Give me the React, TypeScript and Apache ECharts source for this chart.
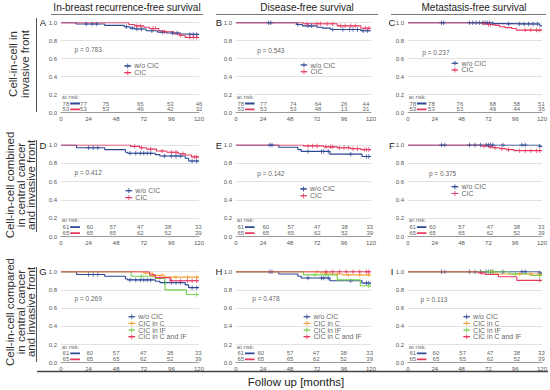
import React, { useEffect, useRef } from "react";
import * as echarts from "echarts";

// ---------- texts ----------
const COLUMN_TITLES = ["In-breast recurrence-free survival", "Disease-free survival", "Metastasis-free survival"];
const ROW_LABELS = [
  "Cell-in-cell in\ninvasive front",
  "Cell-in-cell combined\nin central cancer\nand invasive front",
  "Cell-in-cell compared\nin central cancer\nand invasive front",
];
const PANEL_LETTERS = ["A", "B", "C", "D", "E", "F", "G", "H", "I"];
const P_VALUES = ["0.783", "0.543", "0.237", "0.412", "0.142", "0.375", "0.269", "0.478", "0.113"];
const X_AXIS_TITLE = "Follow up [months]";
const GROUPS_TWO = ["w/o CIC", "CIC"];
const GROUPS_FOUR = ["w/o CIC", "CIC in C", "CIC in IF", "CIC in C and IF"];

// ---------- Kaplan-Meier step curves [months, survival] ----------
const A_noCIC = [[0, 1], [13, 0.985], [38, 0.97], [55, 0.955], [60, 0.94], [64, 0.93], [74, 0.91], [84, 0.895], [92, 0.885], [104, 0.875], [110, 0.87], [120, 0.87]];
const A_CIC = [[0, 1], [59, 0.98], [64, 0.965], [72, 0.95], [77, 0.935], [85, 0.91], [89, 0.9], [98, 0.875], [103, 0.86], [108, 0.837], [120, 0.837]];
const B_noCIC = [[0, 1], [54, 0.98], [59, 0.965], [72, 0.95], [77, 0.94], [84, 0.925], [111, 0.91], [120, 0.91]];
const B_CIC = [[0, 1], [60, 0.988], [90, 0.965], [111, 0.938], [120, 0.938]];
const C_noCIC = [[0, 1], [76, 0.99], [86, 0.985], [118, 0.965], [120, 0.965]];
const C_CIC = [[0, 1], [66, 0.99], [72, 0.98], [78, 0.97], [82, 0.955], [87, 0.945], [93, 0.935], [97, 0.918], [120, 0.918]];
const D_noCIC = [[0, 1], [13.5, 0.97], [38, 0.95], [56, 0.92], [58, 0.91], [82, 0.895], [86, 0.88], [108, 0.855], [111, 0.825], [120, 0.825]];
const D_CIC = [[0, 1], [60.5, 0.985], [68.5, 0.97], [74.5, 0.955], [83, 0.935], [92, 0.92], [102, 0.905], [108, 0.89], [113.5, 0.87], [120, 0.87]];
const E_noCIC = [[0, 1], [38, 0.975], [55, 0.95], [58, 0.93], [83.5, 0.9], [112, 0.875], [120, 0.875]];
const E_CIC = [[0, 1], [60, 0.99], [78, 0.98], [90, 0.97], [102, 0.96], [111, 0.95], [120, 0.95]];
const F_noCIC = [[0, 1], [118, 0.985], [120, 0.985]];
const F_CIC = [[0, 1], [66, 0.99], [72, 0.98], [76, 0.97], [82, 0.96], [88, 0.95], [95, 0.938], [120, 0.938]];
const G_C = [[0, 1], [71.5, 0.985], [80, 0.96], [90, 0.94], [120, 0.94]];
const G_IF = [[0, 1], [61, 0.95], [82, 0.925], [90.5, 0.8], [109, 0.75], [120, 0.75]];
const G_CIF = [[0, 1], [77, 0.965], [82, 0.935], [95, 0.9], [120, 0.9]];
const H_C = [[0, 1], [75, 0.985], [84, 0.975], [95, 0.965], [120, 0.965]];
const H_IF = [[0, 1], [60, 0.965], [90, 0.91], [110.5, 0.845], [120, 0.845]];
const H_CIF = [[0, 1], [120, 1]];
const I_C = [[0, 1], [76.5, 0.985], [80, 0.975], [118, 0.968], [120, 0.968]];
const I_IF = [[0, 1], [91, 0.975], [110, 0.958], [120, 0.958]];
const I_CIF = [[0, 1], [63, 0.985], [69, 0.97], [81, 0.945], [97.5, 0.905], [120, 0.905]];

// ---------- censoring times (months) ----------
const A_cens = [[22, 27, 31, 57, 62, 66, 70, 79, 88, 97, 101, 112, 115, 118], [66, 69, 80, 82, 90, 104, 112, 115, 118]];
const B_cens = [[29, 31, 55, 64, 67, 86, 95, 101, 104, 108, 113, 117], [63, 72, 75, 81, 86, 93, 97, 102, 106, 115, 118]];
const C_cens = [[30, 32, 55, 58, 61, 64, 67, 69, 71, 73, 76, 90, 100, 104, 108, 112, 116], [68, 72, 74, 105, 110, 115, 118]];
const D_cens = [[24, 28, 32, 60, 65, 69, 72, 75, 78, 90, 96, 100, 104, 114, 118], [64, 70, 78, 88, 96, 100, 106, 116, 118]];
const E_cens = [[30, 32, 64, 76, 78, 82, 102, 116, 118], [64, 68, 72, 80, 84, 86, 92, 96, 100, 104, 108, 114, 116, 118]];
const F_cens = [[30, 33, 55, 60, 65, 70, 72, 74, 76, 85, 102, 105, 118], [68, 74, 78, 84, 90, 100, 105, 110, 115, 118]];
const G_cens = [[24, 28, 32, 60, 65, 69, 72, 75, 78, 90, 96, 100, 104, 114, 118], [74, 80, 88, 100, 110, 118], [70, 118], [86, 96, 104, 110, 114, 118]];
const H_cens = [[30, 32, 64, 76, 78, 82, 102, 116, 118], [72, 80, 90, 100, 110, 118], [70, 80, 118], [80, 86, 92, 98, 104, 110, 116, 118]];
const I_cens = [[30, 33, 55, 60, 65, 70, 72, 74, 76, 85, 102, 105, 118], [75, 100, 110, 118], [72, 76, 96, 118], [66, 118]];

// ---------- numbers at risk (at 0, 24, 48, 72, 96, 120 months) ----------
const riskA = [[78, 77, 75, 65, 53, 46], [53, 53, 53, 49, 42, 32]];
const riskB = [[78, 77, 74, 64, 26, 44], [53, 53, 53, 48, 13, 31]];
const riskC = [[78, 78, 76, 68, 58, 51], [53, 53, 53, 49, 44, 35]];
const riskDEFGHI = [[61, 60, 57, 47, 38, 33], [65, 65, 65, 62, 52, 39]];

// ---------- layout & style ----------
const COL_LEFT = [61, 236, 408];
const COL_W = [138, 135, 134];
const ROW_TOP = [22.7, 145, 271.7];
const ROW_H = [90, 91.5, 91];
const FONT = "'Liberation Sans', Arial, Helvetica, sans-serif";
const BLUE = "#2d4795";
const RED = "#e6385f";
const ORANGE = "#f2a43a";
const GREEN = "#74d24e";
const COLORS2 = [BLUE, RED];
const COLORS4 = [BLUE, ORANGE, GREEN, RED];
const PLUS = "path://M4,0H6V4H10V6H6V10H4V6H0V4H4Z";

const PANELS = [
  { curves: [A_noCIC, A_CIC], cens: A_cens, risk: riskA, riskX: [4.3, 19.5, 39, 69, 95, 120], legend: [58, 0.52], p: [11.3, 0.705] },
  { curves: [B_noCIC, B_CIC], cens: B_cens, risk: riskB, riskX: [4.3, 24.4, 51, 73, 96, 115.5], legend: [60.4, 0.53], p: [18.4, 0.695] },
  { curves: [C_noCIC, C_CIC], cens: C_cens, risk: riskC, riskX: [4.3, 21, 46.5, 76, 97.5, 119.5], legend: [42, 0.55], p: [12.3, 0.67] },
  { curves: [D_noCIC, D_CIC], cens: D_cens, risk: riskDEFGHI, riskX: [4.3, 25, 45, 69, 93, 119.4], legend: [59, 0.5], p: [11.3, 0.7] },
  { curves: [E_noCIC, E_CIC], cens: E_cens, risk: riskDEFGHI, riskX: [4.3, 26.5, 48.7, 72.3, 96.5, 119], legend: [60, 0.52], p: [18.4, 0.69] },
  { curves: [F_noCIC, F_CIC], cens: F_cens, risk: riskDEFGHI, riskX: [4.3, 22, 48, 73.5, 97.5, 119.4], legend: [42, 0.545], p: [18.3, 0.69] },
  { curves: [D_noCIC, G_C, G_IF, G_CIF], cens: G_cens, risk: riskDEFGHI, riskX: [4.3, 25, 48, 71.6, 94.8, 119.4], legend: [61.5, 0.505], p: [11.3, 0.71] },
  { curves: [E_noCIC, H_C, H_IF, H_CIF], cens: H_cens, risk: riskDEFGHI, riskX: [4.3, 22, 48, 71.3, 95.6, 118.8], legend: [63, 0.505], p: [14, 0.71] },
  { curves: [F_noCIC, I_C, I_IF, I_CIF], cens: I_cens, risk: riskDEFGHI, riskX: [4.3, 25, 49, 73.5, 97.5, 119.5], legend: [52.5, 0.505], p: [10.8, 0.69] },
];

function stepAt(curve: number[][], t: number): number {
  let y = curve[0][1];
  for (const [x, v] of curve) {
    if (x <= t) y = v;
    else break;
  }
  return y;
}

function buildOption() {
  const grid: any[] = [];
  const xAxis: any[] = [];
  const yAxis: any[] = [];
  const series: any[] = [];
  const graphic: any[] = [];

  PANELS.forEach((panel, i) => {
    const r = Math.floor(i / 3);
    const c = i % 3;
    grid.push({ left: COL_LEFT[c], top: ROW_TOP[r], width: COL_W[c], height: ROW_H[r] });
    xAxis.push({
      type: "value", gridIndex: i, min: 0, max: 120, interval: 24,
      axisLine: { show: true, lineStyle: { color: "#9a9a9a", width: 1 } },
      axisTick: { show: false }, splitLine: { show: false },
      axisLabel: { fontSize: 6, color: "#555", margin: 3, fontFamily: FONT },
    });
    yAxis.push({
      type: "value", gridIndex: i, min: 0, max: 1, interval: 0.2,
      axisLine: { show: false }, axisTick: { show: false },
      splitLine: { show: true, lineStyle: { color: "#e2e2e2", width: 1 } },
      axisLabel: { fontSize: 6, color: "#555", margin: 4, fontFamily: FONT, formatter: (v: number) => v.toFixed(1) },
    });
    const base = { xAxisIndex: i, yAxisIndex: i, silent: true };
    const colors = panel.curves.length === 2 ? COLORS2 : COLORS4;
    const groups = panel.curves.length === 2 ? GROUPS_TWO : GROUPS_FOUR;

    panel.curves.forEach((curve, k) => {
      series.push({
        ...base, type: "line", data: curve, step: "end", symbol: "none",
        lineStyle: { color: colors[k], width: 1.1 }, z: 2 + k,
      });
      series.push({
        ...base, type: "scatter", data: panel.cens[k].map((t) => [t, stepAt(curve, t)]),
        symbol: PLUS, symbolSize: 4.5, itemStyle: { color: colors[k] }, z: 3 + k,
      });
    });

    // legend
    const spacing = groups.length === 2 ? 0.075 : 0.073;
    groups.forEach((name, k) => {
      const y = panel.legend[1] - k * spacing;
      const lx = panel.legend[0];
      series.push({
        ...base, type: "line", data: [[lx - 3, y], [lx + 3, y]], symbol: "none",
        lineStyle: { color: colors[k], width: 1.1 }, z: 10,
      });
      series.push({
        ...base, type: "scatter", data: [[lx, y]], symbol: PLUS, symbolSize: 5,
        itemStyle: { color: colors[k] }, z: 11,
        label: { show: true, position: "right", distance: 4, formatter: name, fontSize: 7, color: "#333", fontFamily: FONT },
      });
    });

    // p value
    series.push({
      ...base, type: "scatter", data: [panel.p], symbolSize: 1, itemStyle: { color: "rgba(0,0,0,0)" },
      label: { show: true, position: "right", distance: 0, formatter: "p = " + P_VALUES[i], fontSize: 6.5, color: "#333", fontFamily: FONT },
    });

    // at risk
    series.push({
      ...base, type: "scatter", data: [[0.3, 0.178]], symbolSize: 1, itemStyle: { color: "rgba(0,0,0,0)" },
      label: { show: true, position: "right", distance: 0, formatter: "at risk:", fontSize: 6, color: "#444", fontFamily: FONT },
    });
    const riskY = [0.102, 0.036];
    panel.risk.forEach((row, j) => {
      series.push({
        ...base, type: "scatter", data: row.map((n, q) => [panel.riskX[q], riskY[j], n]),
        symbolSize: 1, itemStyle: { color: "rgba(0,0,0,0)" },
        label: { show: true, position: "inside", formatter: (p: any) => String(p.data[2]), fontSize: 6, color: "#333", fontFamily: FONT },
      });
      series.push({
        ...base, type: "line", data: [[8, riskY[j]], [16.5, riskY[j]]], symbol: "none",
        lineStyle: { color: COLORS2[j], width: 1.8 },
      });
    });

    // panel letter
    const letterX = [43, 219, 392][c];
    const letterY = ROW_TOP[r] + [0, 0.5, 0][r];
    graphic.push({
      type: "text", x: letterX, y: letterY,
      style: { text: PANEL_LETTERS[i], fontSize: 9.5, fontFamily: FONT, fill: "#222", align: "center", verticalAlign: "middle", textAlign: "center", textVerticalAlign: "middle" },
    });
  });

  // column titles + underlines
  const titleX = [127, 307, 474];
  const lineSpans = [[51, 203], [216, 378], [391, 546]];
  COLUMN_TITLES.forEach((t, c) => {
    graphic.push({
      type: "text", x: titleX[c], y: 7,
      style: { text: t, fontSize: 10, fontFamily: FONT, fill: "#222", align: "center", verticalAlign: "middle", textAlign: "center", textVerticalAlign: "middle" },
    });
    graphic.push({
      type: "line", shape: { x1: lineSpans[c][0], y1: 14.5, x2: lineSpans[c][1], y2: 14.5 },
      style: { stroke: "#777", lineWidth: 1 },
    });
  });

  // row labels + vertical lines
  const rowLabelX = [19, 20.5, 20.5];
  const rowLabelY = [64, 185, 312];
  const rowLineH = [11.8, 10.6, 10.6];
  const vSpans = [[18, 112], [140, 232], [267, 362]];
  ROW_LABELS.forEach((t, r) => {
    graphic.push({
      type: "text", x: rowLabelX[r], y: rowLabelY[r], rotation: Math.PI / 2,
      style: { text: t, fontSize: 11.5, lineHeight: rowLineH[r], fontFamily: FONT, fill: "#333", align: "center", verticalAlign: "middle", textAlign: "center", textVerticalAlign: "middle" },
    });
    graphic.push({
      type: "line", shape: { x1: 36.5, y1: vSpans[r][0], x2: 36.5, y2: vSpans[r][1] },
      style: { stroke: "#555", lineWidth: 1 },
    });
  });

  // bottom axis title
  graphic.push({
    type: "line", shape: { x1: 37, y1: 371.5, x2: 548, y2: 371.5 },
    style: { stroke: "#444", lineWidth: 1.3 },
  });
  graphic.push({
    type: "text", x: 296, y: 381.5,
    style: { text: X_AXIS_TITLE, fontSize: 11.5, fontFamily: FONT, fill: "#222", align: "center", verticalAlign: "middle", textAlign: "center", textVerticalAlign: "middle" },
  });

  return {
    animation: false,
    backgroundColor: "#ffffff",
    textStyle: { fontFamily: FONT },
    grid, xAxis, yAxis, series, graphic,
  };
}

export default function App() {
  const ref = useRef<HTMLDivElement>(null);
  useEffect(() => {
    if (!ref.current) return;
    const chart = echarts.init(ref.current, undefined, { renderer: "svg" });
    chart.setOption(buildOption() as any);
    return () => chart.dispose();
  }, []);
  return <div ref={ref} style={{ position: "absolute", left: 0, top: 0, width: 550, height: 390 }} />;
}
